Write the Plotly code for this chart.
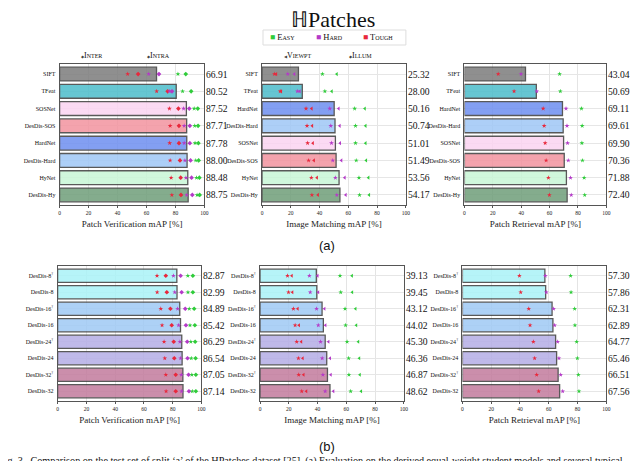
import plotly.graph_objects as go

# ---------------- data (a): baseline descriptors ----------------
pv_models = ["SIFT", "TFeat", "SOSNet", "DesDis-SOS", "HardNet", "DesDis-Hard", "HyNet", "DesDis-Hy"]
pv_map = [66.91, 80.52, 87.52, 87.71, 87.78, 88.00, 88.48, 88.75]
pv_tough_intra = [47.0, 67.0, 75.8, 76.3, 76.0, 76.3, 77.0, 77.5]
pv_tough_inter = [54.2, 74.6, 82.0, 82.4, 82.4, 83.1, 83.6, 83.8]
pv_hard_intra = [61.5, 75.8, 85.6, 86.0, 86.0, 86.5, 87.2, 87.7]
pv_hard_inter = [68.6, 77.6, 89.5, 89.9, 89.9, 90.4, 91.1, 91.6]
pv_easy_intra = [81.7, 84.9, 92.9, 93.3, 93.5, 94.0, 94.5, 94.9]
pv_easy_inter = [87.1, 90.8, 95.4, 95.6, 95.8, 96.0, 96.5, 96.7]

im_models = ["SIFT", "TFeat", "HardNet", "DesDis-Hard", "SOSNet", "DesDis-SOS", "HyNet", "DesDis-Hy"]
im_map = [25.32, 28.00, 50.16, 50.74, 51.01, 51.49, 53.56, 54.17]
im_tough_illum = [8.6, 12.6, 30.6, 31.3, 31.7, 32.4, 34.3, 34.7]
im_tough_viewpt = [9.9, 13.3, 34.5, 34.9, 35.4, 36.1, 38.2, 38.9]
im_hard_illum = [17.9, 24.6, 47.1, 47.8, 48.3, 49.2, 51.0, 52.0]
im_hard_viewpt = [22.5, 26.2, 53.3, 54.0, 54.3, 55.2, 57.5, 58.2]
im_easy_illum = [42.0, 43.7, 64.4, 65.0, 65.0, 65.5, 67.4, 67.8]
im_easy_viewpt = [52.0, 48.5, 71.5, 72.0, 72.0, 72.4, 74.0, 74.5]

pr_models = ["SIFT", "TFeat", "HardNet", "DesDis-Hard", "SOSNet", "DesDis-SOS", "HyNet", "DesDis-Hy"]
pr_map = [43.04, 50.69, 69.11, 69.61, 69.90, 70.36, 71.88, 72.40]
pr_tough = [23.8, 35.0, 55.5, 56.2, 56.9, 57.6, 59.2, 59.9]
pr_hard = [39.9, 51.0, 71.6, 72.3, 72.7, 73.2, 74.8, 75.3]
pr_easy = [67.1, 67.6, 82.5, 83.0, 82.8, 83.2, 84.4, 84.8]

# ---------------- data (b): student models ----------------
st_models = ["DesDis-8<sup>†</sup>", "DesDis-8", "DesDis-16<sup>†</sup>", "DesDis-16",
             "DesDis-24<sup>†</sup>", "DesDis-24", "DesDis-32<sup>†</sup>", "DesDis-32"]
st_pv_map = [82.87, 82.99, 84.89, 85.42, 86.29, 86.54, 87.05, 87.14]
st_pv_tough_intra = [69.1, 69.2, 71.7, 72.6, 74.0, 74.5, 75.2, 75.4]
st_pv_tough_inter = [75.2, 75.9, 78.4, 79.3, 80.7, 81.1, 82.1, 82.1]
st_pv_hard_intra = [80.5, 81.4, 83.4, 84.1, 85.0, 85.5, 86.0, 86.2]
st_pv_hard_inter = [85.5, 86.2, 88.7, 89.2, 90.1, 90.3, 91.0, 91.3]
st_pv_easy_intra = [90.5, 90.6, 91.5, 92.0, 92.6, 92.9, 93.3, 93.6]
st_pv_easy_inter = [94.0, 94.0, 94.9, 95.4, 95.6, 95.9, 96.1, 96.1]

st_im_map = [39.13, 39.45, 43.12, 44.02, 45.30, 46.36, 46.87, 48.62]
st_im_tough_illum = [19.1, 19.8, 23.2, 24.4, 25.5, 26.7, 26.9, 29.0]
st_im_tough_viewpt = [22.1, 22.5, 26.2, 27.1, 28.7, 29.7, 30.3, 32.2]
st_im_hard_illum = [34.3, 34.9, 39.3, 40.5, 42.1, 43.2, 43.7, 45.3]
st_im_hard_viewpt = [40.0, 40.5, 44.8, 45.5, 47.6, 48.7, 49.2, 51.0]
st_im_easy_illum = [55.6, 56.1, 59.1, 59.5, 60.5, 61.6, 61.8, 63.0]
st_im_easy_viewpt = [63.9, 64.1, 66.4, 66.9, 68.3, 69.0, 69.4, 70.3]

st_pr_map = [57.30, 57.86, 62.31, 62.89, 64.77, 65.46, 66.51, 67.56]
st_pr_tough = [39.6, 40.5, 46.1, 47.0, 49.3, 50.2, 51.6, 53.0]
st_pr_hard = [57.6, 58.3, 63.4, 64.1, 66.2, 67.1, 68.3, 69.7]
st_pr_easy = [75.2, 75.5, 78.0, 78.2, 79.4, 79.9, 80.6, 81.0]

# ---------------- styling ----------------
W, H = 640, 461
SERIF = "Liberation Serif, Times New Roman, serif"
EASY, HARD, TOUGH = "#2fcc3a", "#b43ac8", "#e8283c"

bar_colors = {
    "SIFT": "#7c7c7c", "TFeat": "#4cbccb", "SOSNet": "#fbd4f1", "DesDis-SOS": "#f3939f",
    "HardNet": "#6e8ff0", "DesDis-Hard": "#9fc7f6", "HyNet": "#c8f6d6", "DesDis-Hy": "#6f9e79",
    "DesDis-8": "#aaf3f7", "DesDis-16": "#9fc9f5", "DesDis-24": "#b4ade6", "DesDis-32": "#c27b9d",
}


def col(name):
    return bar_colors[name.replace("<sup>†</sup>", "")]


def px_x(a, b):
    return [a / W, b / W]


def px_y(top, bottom):
    return [1 - bottom / H, 1 - top / H]


fig = go.Figure()

# panel: (models, mAP, [(values, color, symbol), ...], title, xdomain, ydomain)
panels = [
    (pv_models, pv_map,
     [(pv_tough_intra, TOUGH, "star"), (pv_tough_inter, TOUGH, "diamond"),
      (pv_hard_intra, HARD, "star"), (pv_hard_inter, HARD, "diamond"),
      (pv_easy_intra, EASY, "star"), (pv_easy_inter, EASY, "diamond")],
     "Patch Verification mAP [%]", px_x(51, 197), px_y(56, 197)),
    (im_models, im_map,
     [(im_tough_illum, TOUGH, "star"), (im_tough_viewpt, TOUGH, "triangle-left"),
      (im_hard_illum, HARD, "star"), (im_hard_viewpt, HARD, "triangle-left"),
      (im_easy_illum, EASY, "star"), (im_easy_viewpt, EASY, "triangle-left")],
     "Image Matching mAP [%]", px_x(255, 400), px_y(56, 197)),
    (pr_models, pr_map,
     [(pr_tough, TOUGH, "star"), (pr_hard, HARD, "star"), (pr_easy, EASY, "star")],
     "Patch Retrieval mAP [%]", px_x(459, 602), px_y(56, 197)),
    (st_models, st_pv_map,
     [(st_pv_tough_intra, TOUGH, "star"), (st_pv_tough_inter, TOUGH, "diamond"),
      (st_pv_hard_intra, HARD, "star"), (st_pv_hard_inter, HARD, "diamond"),
      (st_pv_easy_intra, EASY, "star"), (st_pv_easy_inter, EASY, "diamond")],
     "Patch Verification mAP [%]", px_x(49, 194), px_y(258, 393)),
    (st_models, st_im_map,
     [(st_im_tough_illum, TOUGH, "star"), (st_im_tough_viewpt, TOUGH, "triangle-left"),
      (st_im_hard_illum, HARD, "star"), (st_im_hard_viewpt, HARD, "triangle-left"),
      (st_im_easy_illum, EASY, "star"), (st_im_easy_viewpt, EASY, "triangle-left")],
     "Image Matching mAP [%]", px_x(253, 398), px_y(258, 393)),
    (st_models, st_pr_map,
     [(st_pr_tough, TOUGH, "star"), (st_pr_hard, HARD, "star"), (st_pr_easy, EASY, "star")],
     "Patch Retrieval mAP [%]", px_x(457, 602), px_y(258, 393)),
]

annotations = []
for i, (models, vals, marks, title, xd, yd) in enumerate(panels, start=1):
    sfx = "" if i == 1 else str(i)
    xa, ya = f"x{sfx}", f"y{sfx}"
    fig.add_trace(go.Bar(
        x=vals, y=models, orientation="h", width=0.8,
        marker=dict(color=[col(m) for m in models], opacity=0.85,
                    line=dict(color="#3c3c3c", width=1.3)),
        xaxis=xa, yaxis=ya, showlegend=False, hoverinfo="x+y"))
    for v, c, sym in marks:
        fig.add_trace(go.Scatter(
            x=v, y=models, mode="markers", xaxis=xa, yaxis=ya, showlegend=False,
            marker=dict(color=c, symbol=sym, size=3.6, line=dict(width=0))))
    for m, v in zip(models, vals):
        annotations.append(dict(
            xref=f"{xa} domain", yref=ya, x=1, y=m, text=f"{v:.2f}", showarrow=False,
            xanchor="left", xshift=0, font=dict(family=SERIF, size=9.6, color="#111")))
    fig.update_layout({
        f"xaxis{sfx}": dict(
            domain=xd, anchor=ya, range=[0, 100], tickvals=[0, 20, 40, 60, 80, 100],
            showgrid=True, gridcolor="#e4e4e4", gridwidth=1, zeroline=False,
            showline=True, linecolor="#555", linewidth=1, mirror=True,
            ticks="outside", ticklen=2, tickcolor="#555",
            tickfont=dict(family=SERIF, size=5.5, color="#222"),
            title=dict(text=title, font=dict(family=SERIF, size=9, color="#222"), standoff=6)),
        f"yaxis{sfx}": dict(
            domain=yd, anchor=xa, type="category", categoryorder="array", categoryarray=models,
            autorange="reversed", showgrid=True, gridcolor="#e6e6e6", gridwidth=1,
            showline=True, linecolor="#555", linewidth=1, mirror=True, ticks="",
            tickfont=dict(family=SERIF, size=6, color="#111"), ticklabelstandoff=2),
    })


def pa(x, y, text, size, family=SERIF, xanchor="center", color="#111", variant=None):
    f = dict(family=family, size=size, color=color)
    if variant:
        f["variant"] = variant
    annotations.append(dict(xref="paper", yref="paper", x=x / W, y=1 - y / H, text=text,
                            showarrow=False, xanchor=xanchor, yanchor="middle", font=f))


# title and shared legend
pa(327, 11, "ℍPatches", 22)
fig.add_shape(type="rect", xref="paper", yref="paper",
              x0=256 / W, x1=400 / W, y0=1 - 37 / H, y1=1 - 22 / H,
              line=dict(color="#dddddd", width=1), fillcolor="white")
for x, c, t in [(261, EASY, "Easy"), (307, HARD, "Hard"), (355, TOUGH, "Tough")]:
    pa(x, 29.5, f"<span style='color:{c}'>■</span> {t}", 8.5, xanchor="left", variant="small-caps")

# per-panel marker legends
for x, t in [(71, "◆Inter"), (137, "◆Intra"), (275, "◀Viewpt"), (341, "◆Illum")]:
    pa(x, 47.5, f"<span style='font-size:4px;color:#444'>{t[0]}</span>{t[1:]}", 8,
       xanchor="left", variant="small-caps")

pa(320, 237, "(a)", 13, family="Liberation Sans, Arial, sans-serif")
pa(320, 438, "(b)", 13, family="Liberation Sans, Arial, sans-serif")
pa(-12, 453, "Fig. 3.  Comparison on the test set of split ‘a’ of the HPatches dataset [25]. "
             "(a) Evaluation on the derived equal-weight student models and several typical",
   10.2, xanchor="left")

fig.update_layout(
    width=W, height=H, margin=dict(l=0, r=0, t=0, b=0),
    paper_bgcolor="white", plot_bgcolor="white", bargap=0.2,
    annotations=annotations,
)

fig.write_html("out.html")
